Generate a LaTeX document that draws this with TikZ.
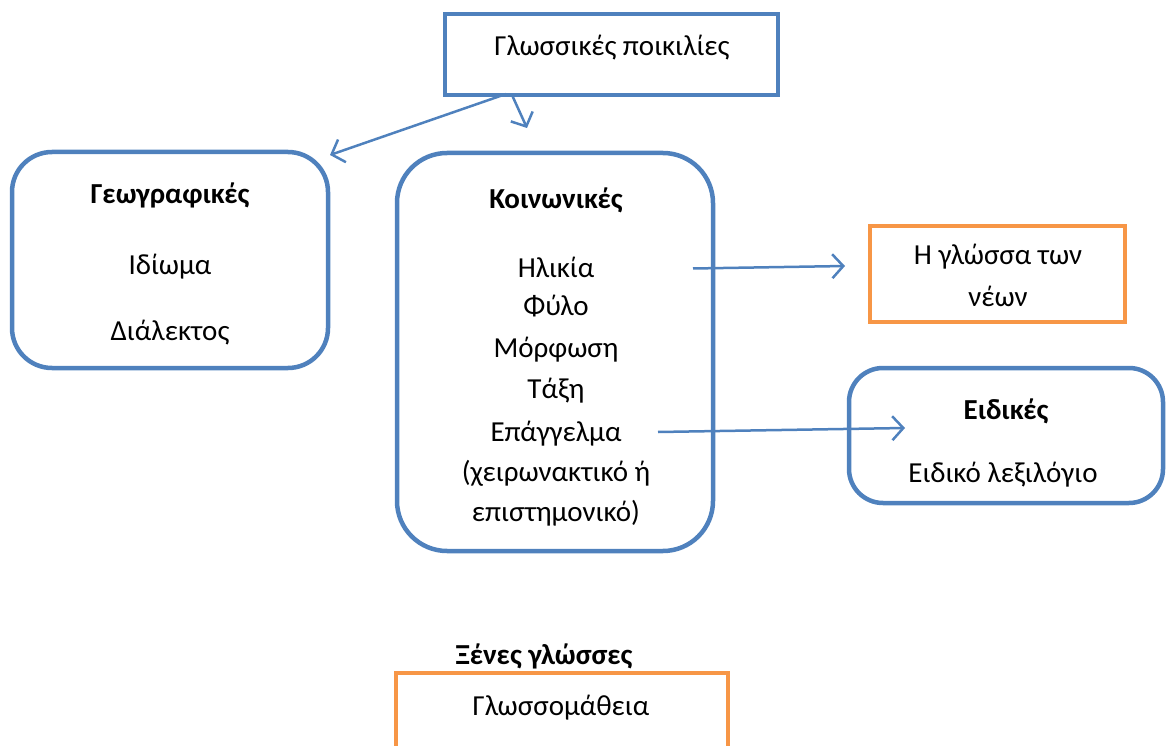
\documentclass[tikz,border=0pt]{standalone}
\usepackage{fontspec}
\setmainfont{Carlito}
\usetikzlibrary{arrows.meta}
\definecolor{bl}{RGB}{79,129,189}
\definecolor{og}{RGB}{247,150,70}
\begin{document}
\begin{tikzpicture}[x=1pt,y=-1pt,
  txt/.style={font=\fontsize{29}{34}\selectfont, inner sep=0pt, anchor=base},
  bld/.style={txt, font=\fontsize{29}{34}\selectfont\bfseries},
  bluebox/.style={draw=bl, line width=4.5pt, rounded corners=40pt},
  sqbox/.style={draw=bl, line width=4.5pt},
  orbox/.style={draw=og, line width=4.5pt},
  conn/.style={draw=bl, line width=2.5pt, -{Straight Barb[length=11pt,width=24pt,line width=2.5pt]}}]
\useasboundingbox (0,0) rectangle (1168,746);
% boxes
\node[sqbox, minimum width=333pt, minimum height=81pt, inner sep=0pt] (top) at (611.5,54.5) {};
\node[bluebox, minimum width=316pt, minimum height=216pt, inner sep=0pt] (geo) at (170,260) {};
\node[bluebox, rounded corners=50pt, minimum width=316pt, minimum height=398pt, inner sep=0pt] (soc) at (555,352) {};
\node[orbox, minimum width=255pt, minimum height=96pt, inner sep=0pt] (young) at (997.5,274) {};
\node[bluebox, rounded corners=34pt, minimum width=314pt, minimum height=135pt, inner sep=0pt] (spec) at (1006,435.5) {};
\draw[orbox] (396,760) |- (728,673) -- (728,760);
% texts
\node[txt] (ttop) at (612,56) {Γλωσσικές ποικιλίες};
\node[bld] (tgeo) at (170,204) {Γεωγραφικές};
\node[txt] (tid) at (170,275) {Ιδίωμα};
\node[txt] (tdi) at (170,340) {Διάλεκτος};
\node[bld] (tsoc) at (556,209) {Κοινωνικές};
\node[txt] (t1) at (556,277) {Ηλικία};
\node[txt] (t2) at (556,316) {Φύλο};
\node[txt] (t3) at (556,357) {Μόρφωση};
\node[txt] (t4) at (556,398) {Τάξη};
\node[txt] (t5) at (556,441) {Επάγγελμα};
\node[txt] (t6) at (556,481) {(χειρωνακτικό ή};
\node[txt] (t7) at (556,521) {επιστημονικό)};
\node[txt] (ty1) at (998,265) {Η γλώσσα των};
\node[txt] (ty2) at (998,306) {νέων};
\node[bld] (tsp) at (1006,419) {Ειδικές};
\node[txt] (tsp2) at (1003,482) {Ειδικό λεξιλόγιο};
\node[bld] (tfor) at (544,664) {Ξένες γλώσσες};
\node[txt] (tgl) at (561,715) {Γλωσσομάθεια};
% connector points
\coordinate (a1s) at (506,94);
\coordinate (a1e) at (330,155);
\coordinate (a2s) at (512,95);
\coordinate (a2e) at (527,128);
\coordinate (b1s) at (693,268.5);
\coordinate (b1e) at (845,266);
\coordinate (b2s) at (658,432);
\coordinate (b2e) at (905,428);
\draw[conn] (a1s) -- (a1e);
\draw[conn] (a2s) -- (a2e);
\draw[conn] (b1s) -- (b1e);
\draw[conn] (b2s) -- (b2e);
\end{tikzpicture}
\end{document}
